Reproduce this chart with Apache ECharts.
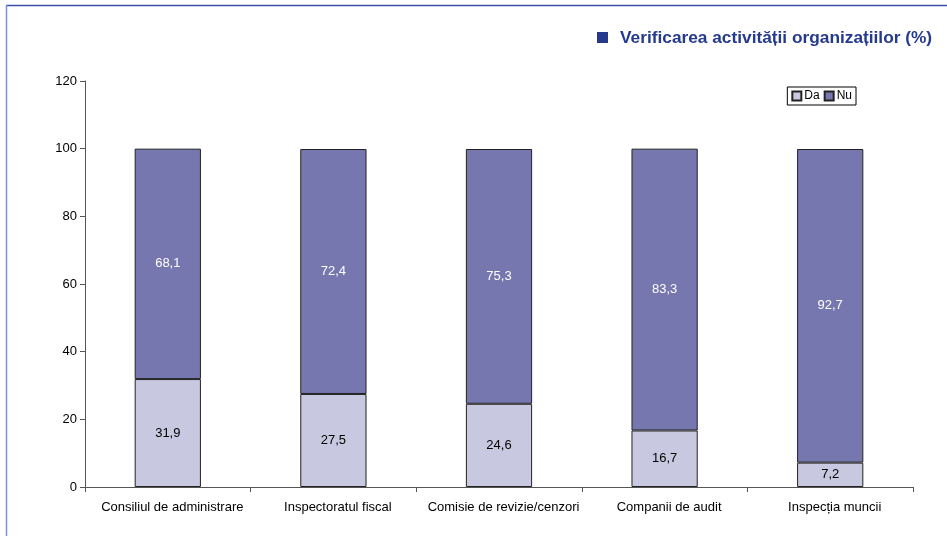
<!DOCTYPE html>
<html><head><meta charset="utf-8">
<script src="https://cdn.jsdelivr.net/npm/echarts@6/dist/echarts.min.js"></script>
<style>html,body{margin:0;padding:0;background:#fff}#c{width:947px;height:536px}</style>
</head><body><div id="c"></div>
<script>
const categories = ["Consiliul de administrare","Inspectoratul fiscal","Comisie de revizie/cenzori","Companii de audit","Inspecția muncii"];
const daValues = [31.9, 27.5, 24.6, 16.7, 7.2];
const nuValues = [68.1, 72.4, 75.3, 83.3, 92.7];
const yTicks = [0, 20, 40, 60, 80, 100, 120];
const titleText = "Verificarea activității organizațiilor (%)";

const chart = echarts.init(document.getElementById('c'));
const fmt = p => String(p.value).replace('.', ',');
const font = "'Liberation Sans', Arial, sans-serif";
chart.setOption({
  animation: false,
  textStyle: { fontFamily: font },
  graphic: [
    { type: 'line', shape: { x1: 6, y1: 5.5, x2: 947, y2: 5.5 }, style: { stroke: '#3a4fa8', lineWidth: 1.5 } },
    { type: 'line', shape: { x1: 6.5, y1: 5, x2: 6.5, y2: 536 }, style: { stroke: '#8090d0', lineWidth: 1.5 } },
    { type: 'rect', shape: { x: 597, y: 32, width: 11, height: 11 }, style: { fill: '#253a8e' } },
    { type: 'text', left: 620, top: 30, style: { text: titleText, fill: '#253a8e', font: "bold 17.3px " + font } }
  ],
  legend: {
    data: ['Da', 'Nu'],
    right: 91, top: 87,
    orient: 'horizontal',
    itemWidth: 9, itemHeight: 9, itemGap: 4,
    borderColor: '#000', borderWidth: 1, padding: [3, 4, 3, 4],
    textStyle: { fontSize: 12, color: '#000', padding: [0, 0, 0, -2] },
    icon: 'rect'
  },
  grid: { left: 85, right: 34, top: 81, bottom: 49 },
  xAxis: {
    type: 'category', data: categories,
    axisLine: { lineStyle: { color: '#555' } },
    axisTick: { show: true, alignWithLabel: false, length: 5, lineStyle: { color: '#555' } },
    axisLabel: { color: '#000', fontSize: 13, margin: 12, interval: 0, padding: [2, 0, 0, 9] }
  },
  yAxis: {
    type: 'value', min: 0, max: 120, interval: 20,
    axisLine: { show: true, lineStyle: { color: '#555' } },
    axisTick: { show: true, length: 5, lineStyle: { color: '#555' } },
    splitLine: { show: false },
    axisLabel: { color: '#000', fontSize: 13, margin: 8 }
  },
  series: [
    { name: 'Da', type: 'bar', stack: 's', data: daValues, barWidth: '40%',
      itemStyle: { color: '#c8c8e0', borderColor: '#222', borderWidth: 1 },
      label: { show: true, position: 'inside', color: '#000', fontSize: 13, formatter: fmt } },
    { name: 'Nu', type: 'bar', stack: 's', data: nuValues, barWidth: '40%',
      itemStyle: { color: '#7777b0', borderColor: '#222', borderWidth: 1 },
      label: { show: true, position: 'inside', color: '#fff', fontSize: 13, formatter: fmt } }
  ]
});
</script></body></html>
